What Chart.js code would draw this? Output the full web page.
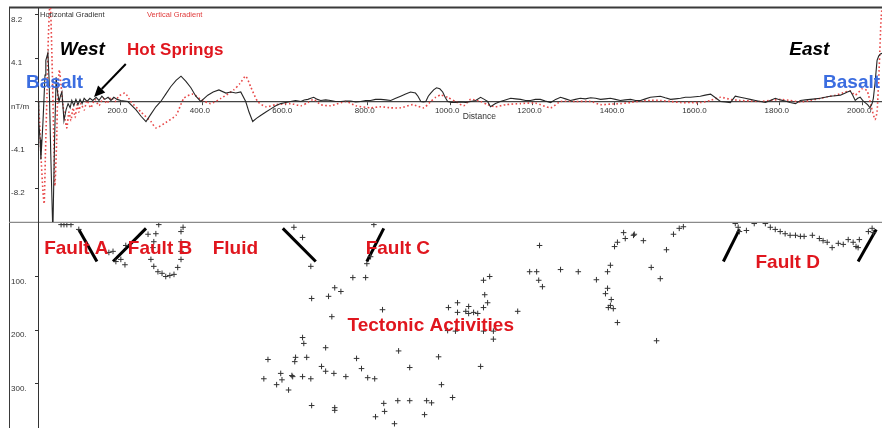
<!DOCTYPE html>
<html><head><meta charset="utf-8">
<script src="https://cdn.jsdelivr.net/npm/chart.js@4"></script>
<style>
html,body{margin:0;padding:0;background:#fff;}
#wrap{position:relative;width:882px;height:428px;overflow:hidden;background:#fff;}
canvas{position:absolute;left:0;}
#top{top:0;} #bot{top:223px;}
</style></head><body>
<div id="wrap"><canvas id="top" width="882" height="223"></canvas><canvas id="bot" width="882" height="205"></canvas></div>
<script>
// ---------- DATA ----------
const distanceRange = [0, 2048];
const distanceTicks = [200,400,600,800,1000,1200,1400,1600,1800,2000];
const gradientRange = [-11.42, 8.86];
const gradientTicks = [8.2, 4.1, 0, -4.1, -8.2];
const gradientTickLabels = ['8.2', '4.1', 'nT/m', '-4.1', '-8.2'];
const depthRange = [0, 383];
const depthTicks = [100, 200, 300];
const depthTickLabels = ['100.', '200.', '300.'];

// Horizontal gradient [distance, nT/m]
const horizontalGradient = [[0,0],[2,-2],[5,-3.6],[7,-5.5],[12,-2],[17,2.5],[19,3.9],[24,4.6],[27,2],[31,-5],[36,-12.5],[40,-4],[44,2.3],[47,1],[51,0],[55,0.6],[58,0.9],[63,-1.8],[68,-0.8],[73,-0.2],[78,-0.6],[82,0.1],[87,-0.4],[92,0.2],[97,-0.3],[102,0.2],[107,-0.2],[112,0.3],[119,0],[126,0.3],[133,0.1],[141,0.4],[148,0.1],[155,0.5],[162,0.2],[170,0.4],[177,0.1],[184,0.4],[192,0.2],[201,0.1],[218,0],[238,-0.8],[250,-1.4],[262,-1.9],[274,-1.2],[286,-0.5],[298,0],[310,0.7],[322,1.4],[335,2.0],[347,2.4],[359,1.9],[371,1.3],[383,0.5],[395,0],[412,0.6],[425,0.9],[439,1.1],[456,0.8],[468,0.9],[480,0.8],[492,0.9],[504,0],[512,-1.0],[521,-1.9],[530,-1.6],[541,-1.3],[553,-1.0],[565,-0.7],[577,-0.4],[589,-0.2],[601,-0.1],[613,0],[625,0.1],[638,0],[646,0.15],[655,0.2],[662,0.3],[669,0.4],[678,0.2],[686,0.1],[698,0.15],[710,0.1],[722,0],[735,0],[747,0.05],[759,0.05],[771,-0.05],[783,0],[795,0.1],[807,0.1],[819,0.2],[832,0.2],[844,0.15],[856,0.1],[868,0.3],[880,0.5],[892,0.7],[904,0.9],[916,0.8],[922,0.5],[929,0],[935,-0.05],[941,0],[947,0.5],[953,0.8],[960,1.1],[967,1.3],[975,1.2],[982,0.9],[988,0.4],[994,0],[1004,-0.1],[1013,-0.1],[1025,-0.05],[1038,-0.1],[1050,0],[1062,0.1],[1074,0.4],[1083,0.2],[1091,0],[1098,-0.5],[1110,-0.2],[1122,0],[1134,0.15],[1147,0.3],[1159,0.25],[1171,0.2],[1183,0.1],[1195,0.1],[1207,0.2],[1219,0.2],[1231,0.05],[1244,-0.1],[1256,0.2],[1268,0.4],[1280,0.25],[1292,0.1],[1304,0.2],[1316,0.3],[1328,0.25],[1341,0.35],[1353,0.3],[1365,0.2],[1377,0.25],[1389,0.3],[1401,0.2],[1413,0.1],[1425,0.15],[1438,0.2],[1450,0.1],[1462,0.1],[1474,0.25],[1486,0.4],[1498,0.45],[1510,0.5],[1522,0.35],[1535,0.2],[1547,0.25],[1559,0.3],[1571,0.4],[1583,0.4],[1595,0.45],[1607,0.5],[1619,0.6],[1632,0.7],[1644,0.35],[1656,0],[1668,-0.05],[1680,-0.1],[1692,0.5],[1704,0.4],[1716,0.3],[1728,0.2],[1741,0.1],[1753,0],[1765,-0.1],[1777,0.1],[1789,0.3],[1801,0.15],[1813,0.05],[1825,-0.1],[1838,-0.2],[1850,0.1],[1862,0.15],[1874,0.2],[1886,0.25],[1898,0.3],[1910,0.4],[1922,0.5],[1935,0.55],[1947,0.6],[1959,0.8],[1964,0.9],[1971,1.0],[1977,0.6],[1983,0.1],[1989,0.3],[1995,0.4],[2001,0.1],[2007,-0.1],[2013,-0.3],[2019,-0.6],[2024,-0.2],[2027,0.3],[2031,1.7],[2036,3.9],[2040,4.3],[2044,4.5],[2050,4.6]];

// Vertical gradient [distance, nT/m]
const verticalGradient = [[0,0],[4,-2],[7,-5],[12,-8.5],[15,-9.7],[18,-5],[22,1],[25,6],[28,8.8],[30,9.5],[34,4],[38,-3],[41,-8],[45,-4],[48,1],[52,3],[56,1.5],[61,-0.5],[65,-1.5],[70,-2.5],[75,-1],[80,-1.8],[85,-0.6],[90,-1.5],[95,-0.3],[99,-1],[104,-0.2],[112,-0.8],[119,0.1],[128,-0.6],[138,0.2],[148,-0.4],[158,0.3],[167,-0.2],[177,0.4],[187,0],[196,0.5],[211,0.8],[225,0],[250,-1],[274,-1.9],[286,-2.5],[310,-2.0],[335,-1.3],[354,0.3],[376,0.7],[395,0.2],[419,-0.2],[444,0.3],[475,1.1],[490,1.7],[504,2.4],[516,1.4],[533,0],[553,-0.5],[577,-0.3],[613,-0.2],[638,-0.4],[655,-0.1],[669,0.2],[686,-0.3],[710,-0.4],[747,0],[771,-0.4],[807,-0.6],[832,-0.5],[856,-0.6],[880,-0.6],[909,-0.3],[936,-0.6],[953,0],[965,0.4],[977,0.6],[994,0.4],[1013,0],[1033,-0.4],[1050,0.2],[1074,0],[1091,-0.3],[1110,-0.5],[1135,-0.3],[1171,-0.2],[1207,-0.15],[1244,-0.6],[1268,0],[1304,0],[1341,0],[1365,-0.3],[1389,-0.25],[1413,-0.2],[1438,-0.1],[1462,0.05],[1486,0.1],[1510,0.1],[1535,0],[1559,-0.1],[1583,-0.1],[1607,-0.1],[1632,0.1],[1656,0.4],[1680,0.2],[1704,0.1],[1728,0.05],[1753,0],[1777,0.1],[1801,0.2],[1825,0.1],[1850,-0.05],[1874,0.1],[1898,0.3],[1916,0.45],[1935,0.6],[1959,0.9],[1971,1.0],[1983,0.6],[2000,1.2],[2012,1.0],[2022,-0.5],[2031,-1.7],[2036,-1],[2041,3],[2046,8],[2051,10]];

// Seismic events [distance, depth]
const events = [
[56,3],[63,3],[70,3],[80,3],[99,12],[172,55],[182,53],[213,42],[189,72],[201,68],[211,78],
[293,3],[352,8],[347,16],[267,21],[286,20],[281,35],[347,35],[279,46],[347,53],[274,68],[347,68],[281,81],[339,83],[291,91],[330,96],[301,94],[310,100],[320,98],
[621,8],[642,27],[662,81],[815,3],[798,76],[807,63],[764,102],[795,102],[720,121],[735,128],[705,137],[664,141],[713,175],[836,162],[642,214],[645,225],[698,233],[558,255],[625,251],[623,259],[652,251],[773,253],[875,239],[972,250],[688,268],[698,277],[718,281],[747,287],[785,272],[800,289],[817,291],[902,270],[589,281],[616,285],[618,287],[642,287],[662,291],[548,291],[592,293],[579,302],[608,312],[979,302],[664,341],[720,345],[720,350],[839,337],[873,332],[902,332],[943,332],[955,336],[1006,326],[841,352],[819,362],[938,358],[865,375],
[1018,149],[996,158],[1018,167],[1045,156],[1038,165],[1045,169],[1057,167],[1067,169],[994,201],[1013,202],[1081,202],[1105,202],[1105,217],[1074,268],[1081,107],[1096,100],[1084,134],[1091,149],[1081,158],[1164,165],
[1217,42],[1193,91],[1210,91],[1215,107],[1224,119],[1268,87],[1311,91],[1355,106],[1382,122],[1377,132],[1391,143],[1389,154],[1384,158],[1396,160],[1406,186],[1501,220],[1382,91],[1389,79],[1399,44],[1406,36],[1421,18],[1425,29],[1445,23],[1447,21],[1469,33],[1488,83],[1510,104],[1525,50],[1542,21],[1556,10],[1566,7],
[1692,1],[1699,8],[1702,16],[1719,14],[1738,1],[1765,1],[1777,8],[1789,12],[1801,16],[1813,20],[1825,23],[1838,23],[1850,25],[1859,25],[1879,23],[1896,29],[1905,33],[1915,36],[1927,46],[1942,38],[1954,40],[1966,31],[1978,36],[1985,44],[1993,31],[1990,46],[2015,16],[2024,10],[2027,18]
];

// Interpreted faults [distance1, depth1, distance2, depth2]
const faults = [[99,12,143,72],[182,72,262,10],[594,10,674,72],[839,10,798,72],[1702,12,1663,72],[2034,12,1990,72]];

// Annotations anchored in data units
const topNotes = [
  {text:'West', d:53, v:4.41, kind:'dir'},
  {text:'Hot Springs', d:216, v:4.41, kind:'hot'},
  {text:'Basalt', d:-29, v:1.28, kind:'rock'},
  {text:'East', d:1823, v:4.41, kind:'dir'},
  {text:'Basalt', d:1905, v:1.28, kind:'rock'},
  {text:'Distance', d:1071, v:-1.47, kind:'axis'}
];
const topArrows = [[213, 3.55, 136, 0.43]];
const bottomNotes = [
  {text:'Fault A', d:15, v:57, kind:'zone'},
  {text:'Fault B', d:218, v:57, kind:'zone'},
  {text:'Fluid', d:424, v:57, kind:'zone'},
  {text:'Fault C', d:795, v:57, kind:'zone'},
  {text:'Tectonic Activities', d:751, v:201, kind:'zone'},
  {text:'Fault D', d:1741, v:85, kind:'zone'}
];

// ---------- STYLE ----------
const FONT = '"Liberation Sans", Arial, sans-serif';
Chart.defaults.font.family = FONT;
const noteStyles = {
  dir:  {font:'italic bold 19px ' + FONT, color:'#000', align:'left', base:'alphabetic'},
  hot:  {font:'bold 17px ' + FONT, color:'#e0161e', align:'left', base:'alphabetic'},
  rock: {font:'bold 19px ' + FONT, color:'#3b6de0', align:'left', base:'alphabetic'},
  axis: {font:'8.5px ' + FONT, color:'#333', align:'center', base:'middle'},
  zone: {font:'bold 19px ' + FONT, color:'#e0161e', align:'left', base:'alphabetic'}
};

const notesPlugin = {
  id: 'notes',
  afterDatasetsDraw(chart, args, opts) {
    const ctx = chart.ctx, xs = chart.scales.x, ys = chart.scales.y;
    ctx.save();
    (opts.arrows || []).forEach(a => {
      const x1 = xs.getPixelForValue(a[0]), y1 = ys.getPixelForValue(a[1]);
      const x2 = xs.getPixelForValue(a[2]), y2 = ys.getPixelForValue(a[3]);
      const ang = Math.atan2(y2 - y1, x2 - x1), L = 11, W = 5;
      const bx = x2 - L * Math.cos(ang), by = y2 - L * Math.sin(ang);
      ctx.strokeStyle = '#000'; ctx.lineWidth = 2;
      ctx.beginPath(); ctx.moveTo(x1, y1); ctx.lineTo(bx, by); ctx.stroke();
      ctx.fillStyle = '#000';
      ctx.beginPath(); ctx.moveTo(x2, y2);
      ctx.lineTo(bx + W * Math.sin(ang), by - W * Math.cos(ang));
      ctx.lineTo(bx - W * Math.sin(ang), by + W * Math.cos(ang));
      ctx.closePath(); ctx.fill();
    });
    (opts.notes || []).forEach(n => {
      const st = noteStyles[n.kind];
      ctx.font = st.font; ctx.fillStyle = st.color;
      ctx.textAlign = st.align; ctx.textBaseline = st.base;
      ctx.fillText(n.text, xs.getPixelForValue(n.d), ys.getPixelForValue(n.v));
    });
    ctx.restore();
  }
};

const framePlugin = {
  id: 'frame',
  beforeDraw(chart, args, opts) {
    const ctx = chart.ctx, a = chart.chartArea, W = chart.width, H = chart.height;
    ctx.save();
    ctx.fillStyle = '#fff'; ctx.fillRect(0, 0, W, H);
    ctx.strokeStyle = '#3a3a3a'; ctx.lineWidth = 1;
    ctx.beginPath(); ctx.moveTo(9.5, opts.top ? a.top : 0); ctx.lineTo(9.5, H); ctx.stroke();
    if (opts.top) {
      ctx.lineWidth = 2;
      ctx.beginPath(); ctx.moveTo(9, a.top - 0.5); ctx.lineTo(W, a.top - 0.5); ctx.stroke();
      ctx.strokeStyle = '#8a8a8a'; ctx.lineWidth = 1.5;
      ctx.beginPath(); ctx.moveTo(9, a.bottom + 0.5); ctx.lineTo(W, a.bottom + 0.5); ctx.stroke();
    }
    ctx.restore();
  },
  afterDraw(chart, args, opts) {
    if (!opts.top) return;
    const ctx = chart.ctx, a = chart.chartArea;
    ctx.save();
    const ds = chart.data.datasets;
    ctx.font = '7.5px ' + FONT; ctx.textBaseline = 'middle'; ctx.textAlign = 'left';
    ctx.fillStyle = '#333'; ctx.fillText(ds[0].label, a.left + 2, a.top + 7);
    ctx.fillStyle = '#e03a3a'; ctx.fillText(ds[1].label, a.left + 109, a.top + 7);
    ctx.restore();
  }
};

const yAxisCommon = {
  afterFit: s => { s.width = 27; s.paddingTop = 0; s.paddingBottom = 0; },
  grid: {drawOnChartArea: false, drawTicks: true, tickLength: 3, color: '#333'},
  border: {color: '#333', width: 1}
};

new Chart(document.getElementById('top'), {
  type: 'line',
  data: {datasets: [
    {label: 'Horizontal Gradient', data: horizontalGradient.map(p => ({x: p[0], y: p[1]})),
     borderColor: '#262626', borderWidth: 1.1, pointRadius: 0, tension: 0},
    {label: 'Vertical Gradient', data: verticalGradient.map(p => ({x: p[0], y: p[1]})),
     borderColor: '#e84848', borderWidth: 1.6, borderDash: [1.6, 2.4], pointRadius: 0, tension: 0.2}
  ]},
  options: {
    responsive: false, animation: false, devicePixelRatio: 1,
    layout: {autoPadding: false, padding: {left: 11, top: 8, right: 0, bottom: 1}},
    plugins: {legend: {display: false}, tooltip: {enabled: false},
      notes: {notes: topNotes, arrows: topArrows}, frame: {top: true}},
    scales: {
      x: {type: 'linear', min: distanceRange[0], max: distanceRange[1], position: {y: 0},
        afterBuildTicks: s => { s.ticks = distanceTicks.map(v => ({value: v})); },
        afterFit: s => { s.paddingLeft = 0; s.paddingRight = 0; },
        ticks: {callback: v => Number(v).toFixed(1), font: {size: 8}, color: '#333', padding: 2,
          maxRotation: 0, autoSkip: false, labelOffset: -3},
        grid: {drawOnChartArea: false, tickLength: 3, color: '#444'},
        border: {color: '#444', width: 1.2}},
      y: Object.assign({}, yAxisCommon, {
        min: gradientRange[0], max: gradientRange[1],
        afterBuildTicks: s => { s.ticks = gradientTicks.map(v => ({value: v})); },
        ticks: {callback: (v, i) => gradientTickLabels[i], crossAlign: 'far', labelOffset: 5,
          font: {size: 8}, color: '#333', padding: 2}
      })
    }
  },
  plugins: [framePlugin, notesPlugin]
});

const faultSets = faults.map(f => ({
  data: [{x: f[0], y: f[1]}, {x: f[2], y: f[3]}], showLine: true, pointRadius: 0,
  borderColor: '#000', borderWidth: 3, clip: false
}));

new Chart(document.getElementById('bot'), {
  type: 'scatter',
  data: {datasets: [
    {label: 'Events', data: events.map(p => ({x: p[0], y: p[1]})), pointStyle: 'cross',
     pointRadius: 2.8, pointBorderWidth: 1, borderColor: '#333', backgroundColor: '#333', clip: false}
  ].concat(faultSets)},
  options: {
    responsive: false, animation: false, devicePixelRatio: 1,
    layout: {autoPadding: false, padding: {left: 11, top: 0, right: 0, bottom: 0}},
    plugins: {legend: {display: false}, tooltip: {enabled: false},
      notes: {notes: bottomNotes}, frame: {top: false}},
    scales: {
      x: {type: 'linear', display: false, min: distanceRange[0], max: distanceRange[1]},
      y: Object.assign({}, yAxisCommon, {
        reverse: true, min: depthRange[0], max: depthRange[1],
        afterBuildTicks: s => { s.ticks = depthTicks.map(v => ({value: v})); },
        ticks: {callback: (v, i) => depthTickLabels[i], crossAlign: 'far', labelOffset: 5,
          font: {size: 8}, color: '#333', padding: 2}
      })
    }
  },
  plugins: [framePlugin, notesPlugin]
});
</script></body></html>
